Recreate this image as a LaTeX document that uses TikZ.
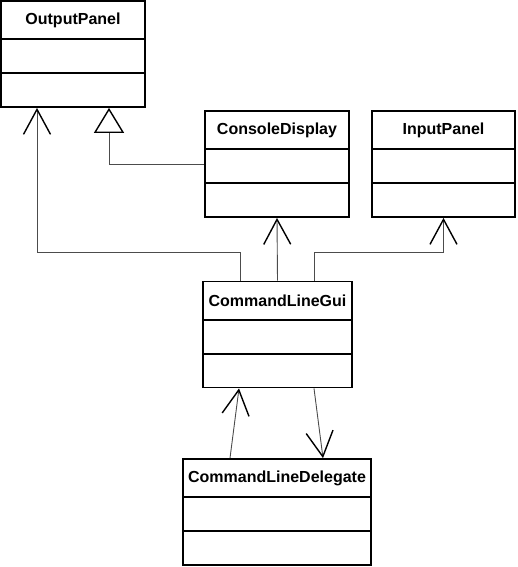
\documentclass[tikz,border=0pt]{standalone}
\usepackage{fontspec}
\setmainfont{Liberation Sans}
\usetikzlibrary{arrows.meta,calc}
\tikzset{
  cls/.style={draw=black, line width=1.8pt, fill=white, inner sep=0pt},
  ttl/.style={font=\bfseries\fontsize{16}{18}\selectfont, inner sep=0pt},
  divider/.style={draw=black, line width=1.8pt},
  conn/.style={draw=black!70, line width=0.9pt},
  assoc/.style={conn, -{Straight Barb[length=25pt, width=27pt, line width=1.4pt, color=black]}},
  gen/.style={conn, -{Triangle[open, length=25pt, width=30pt, line width=1.4pt, color=black, fill=white]}}
}
\newcommand{\classbox}[5]{%
  % #1 name, #2 x, #3 y, #4 width, #5 title
  \node[cls, minimum width=#4pt, minimum height=106pt] (#1) at (#2,#3) {};
  \node[ttl] (#1-t) at ($(#1.north)+(0,20.5)$) {#5};
  \draw[divider] ($(#1.north west)+(0,39)$) -- ($(#1.north east)+(0,39)$);
  \draw[divider] ($(#1.north west)+(0,73)$) -- ($(#1.north east)+(0,73)$);
}
\begin{document}
\begin{tikzpicture}[x=1pt, y=-1pt]
\useasboundingbox (0,0) rectangle (517,567);
\classbox{op}{73}{54}{144}{OutputPanel}
\classbox{cd}{277}{164}{144}{ConsoleDisplay}
\classbox{ip}{443.5}{164}{143}{InputPanel}
\classbox{gui}{277.5}{334.5}{149}{CommandLineGui}
\classbox{del}{277}{512}{188}{CommandLineDelegate}
% generalization
\draw[gen] (cd.west) -| ([xshift=36pt]op.south);
% associations from gui
\draw[assoc] ([xshift=-37.5pt]gui.north) -- ++(0,-28) -| ([xshift=-36pt]op.south);
\draw[assoc] (gui.north) -- (cd.south);
\draw[assoc] ([xshift=36.5pt]gui.north) -- ++(0,-28) -| (ip.south);
% gui <-> delegate
\draw[assoc] ([xshift=-47pt]del.north) -- ([xshift=-38.5pt]gui.south);
\draw[assoc] ([xshift=36.5pt]gui.south) -- ([xshift=46pt]del.north);
\end{tikzpicture}
\end{document}
